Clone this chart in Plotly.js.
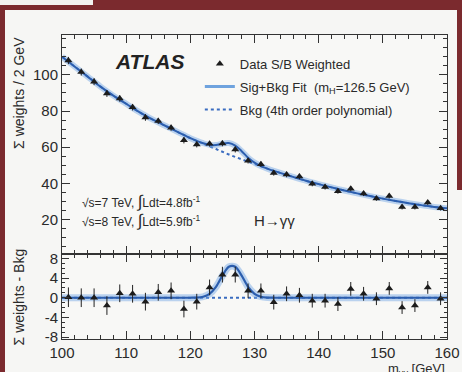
<!DOCTYPE html>
<html><head><meta charset="utf-8">
<script src="https://cdn.plot.ly/plotly-3.0.1.min.js"></script>
<style>
html,body{margin:0;padding:0;width:462px;height:372px;overflow:hidden;background:#7b2a2e;}
#chart{position:absolute;left:5px;top:10px;width:457px;height:362px;}
#wtop{position:absolute;left:0;top:0;width:93px;height:5px;background:#f2f2f0;}
#rband{position:absolute;left:457px;top:0;width:5px;height:190px;background:#7b2a2e;z-index:5;}
</style></head><body>
<div id="wtop"></div>
<div id="chart"></div>
<div id="rband"></div>
<script>
// ---- data ----
var massBins = [101,103,105,107,109,111,113,115,117,119,121,123,125,127,129,131,133,135,137,139,141,143,145,147,149,151,153,155,157,159];
var weightedData = [107.9,101.5,96.2,89.7,86.9,82.1,76.4,74.5,70.7,63.8,61.5,61.9,62.1,58.7,52.5,50.6,45.8,44.9,43.8,39.8,38.0,35.7,37.1,34.4,31.7,33.0,26.9,26.9,29.4,26.3];
var dataErr = [2.0,1.9,1.9,1.9,1.8,1.8,1.8,1.7,1.7,1.7,1.6,1.6,1.6,1.6,1.5,1.5,1.5,1.5,1.5,1.4,1.4,1.4,1.4,1.4,1.3,1.3,1.3,1.3,1.3,1.3];
var residData = [0.1,0.0,0.0,-1.6,0.9,0.8,-0.8,1.1,1.4,-2.3,-0.8,2.1,4.7,4.7,1.4,1.4,-0.9,0.8,0.5,-0.6,-0.6,-1.3,1.8,0.8,-0.2,1.9,-2.0,-1.6,2.1,-0.2];

var bkgMass = [100,102,104,106,108,110,112,114,116,118,120,122,124,126,128,130,132,134,136,138,140,142,144,146,148,150,152,154,156,158,160];
var bkgFit  = [110,104.5,99,93.5,88.5,84,79.5,75.5,72,68.5,65,62,59,56,53.3,50.7,48.2,45.8,43.6,41.5,39.6,37.8,36.1,34.5,33,31.6,30.3,29.1,28,27,26.3];

var fitMass = [100,102,104,106,108,110,112,114,116,118,120,121,122,123,124,125,126,127,128,129,130,131,132,134,136,138,140,142,144,146,148,150,152,154,156,158,160];
var sigBkgFit = [110,104.5,99,93.5,88.5,84,79.5,75.5,72,68.5,65,63.5,62.2,61.3,61.2,62.0,62.3,60.9,57.8,54.2,51.5,49.6,48.2,45.8,43.6,41.5,39.6,37.8,36.1,34.5,33,31.6,30.3,29.1,28,27,26.3];

var sigMass = [100,110,120,121,122,123,124,125,126,127,128,129,130,131,132,133,140,150,160];
var sigResid = [0,0,0,0.03,0.2,0.8,2.2,4.5,6.3,6.3,4.5,2.2,0.8,0.2,0.03,0,0,0,0];
var zeroMass = [100,160];
var zeroResid = [0,0];

var xTickVals = [100,110,120,130,140,150,160];
var yTickVals = [20,40,60,80,100];
var y2TickVals = [-8,-4,0,4,8];
var y2TickText = ['-8','-4','0','4','8'];

// ---- styling ----
var FONT = 'Liberation Sans, Arial, Helvetica, sans-serif';
var INK = '#2a2a2a';
var BLUE = '#2c5eae';
var HALO = 'rgba(110,165,228,0.45)';

var traces = [
  {x: bkgMass, y: bkgFit, xaxis:'x', yaxis:'y', mode:'lines', line:{color:'#3a6cc0', width:2, dash:'dot', shape:'spline'},
   name:'Bkg (4th order polynomial)', legendgroup:'c', legendrank:3},
  {x: fitMass, y: sigBkgFit, xaxis:'x', yaxis:'y', mode:'lines', line:{color:HALO, width:6, shape:'spline'}, showlegend:false, hoverinfo:'skip'},
  {x: fitMass, y: sigBkgFit, xaxis:'x', yaxis:'y', mode:'lines', line:{color:BLUE, width:2, shape:'spline'}, showlegend:false},
  {x: [null], y: [null], xaxis:'x', yaxis:'y', mode:'lines', line:{color:'#6fa3de', width:3},
   name:'Sig+Bkg Fit  (m<sub>H</sub>=126.5 GeV)', legendgroup:'b', legendrank:2},
  {x: massBins, y: weightedData, xaxis:'x', yaxis:'y', mode:'markers',
   marker:{symbol:'triangle-up', size:7, color:'#1c1c1c'},
   error_y:{type:'data', array:dataErr, visible:true, thickness:1, width:0, color:'#222'},
   name:'Data S/B Weighted', legendgroup:'a', legendrank:1},

  {x: zeroMass, y: zeroResid, xaxis:'x2', yaxis:'y2', mode:'lines', line:{color:'#3a6cc0', width:2, dash:'dot'}, showlegend:false},
  {x: sigMass, y: sigResid, xaxis:'x2', yaxis:'y2', mode:'lines', line:{color:HALO, width:7, shape:'spline', smoothing:0.8}, showlegend:false},
  {x: sigMass, y: sigResid, xaxis:'x2', yaxis:'y2', mode:'lines', line:{color:BLUE, width:2.2, shape:'spline', smoothing:0.8}, showlegend:false},
  {x: massBins, y: residData, xaxis:'x2', yaxis:'y2', mode:'markers',
   marker:{symbol:'triangle-up', size:7, color:'#1c1c1c'},
   error_y:{type:'data', array:dataErr, visible:true, thickness:1, width:0, color:'#222'},
   showlegend:false}
];

var axBase = {showline:true, linecolor:'#333', linewidth:1, mirror:'allticks', ticks:'inside', tickcolor:'#333',
  showgrid:false, zeroline:false, tickfont:{family:FONT, size:15, color:INK}};

var split = 0.2796;
var layout = {
  width:457, height:362,
  margin:{l:57, r:15, t:25, b:33},
  paper_bgcolor:'#f6f6f4', plot_bgcolor:'#f8f8f6',
  font:{family:FONT, color:INK},
  showlegend:true,
  legend:{x:0.358, y:0.955, xanchor:'left', yanchor:'top', bgcolor:'rgba(0,0,0,0)',
    font:{family:FONT, size:13, color:INK}, traceorder:'grouped', tracegroupgap:3, itemwidth:30},
  xaxis: Object.assign({}, axBase, {domain:[0,1], anchor:'y', range:[100,160], tickvals:xTickVals, ticklen:8,
    showticklabels:false, minor:{dtick:2, tick0:100, ticklen:4, ticks:'inside', tickcolor:'#333'}}),
  yaxis: Object.assign({}, axBase, {domain:[split,1], anchor:'x', range:[1,122], tickvals:yTickVals, ticklen:8,
    minor:{dtick:5, tick0:0, ticklen:4, ticks:'inside', tickcolor:'#333'}}),
  xaxis2: Object.assign({}, axBase, {domain:[0,1], anchor:'y2', range:[100,160], tickvals:xTickVals, ticklen:8,
    minor:{dtick:2, tick0:100, ticklen:4, ticks:'inside', tickcolor:'#333'}}),
  yaxis2: Object.assign({}, axBase, {domain:[0,split], anchor:'x2', range:[-8.4,8.9], tickvals:y2TickVals, ticktext:y2TickText, ticklen:7,
    minor:{dtick:1, tick0:0, ticklen:3, ticks:'inside', tickcolor:'#333'}}),
  annotations:[
    {xref:'x', yref:'y', x:108, y:107.5, xanchor:'left', yanchor:'middle', showarrow:false,
     text:'<b><i>ATLAS</i></b>', font:{family:FONT, size:21, color:'#222'}},
    {xref:'x', yref:'y', x:102.8, y:30, xanchor:'left', yanchor:'middle', showarrow:false,
     text:'√s=7 TeV, <span style="font-size:17px">∫</span>Ldt=4.8fb<sup>-1</sup>', font:{family:FONT, size:12, color:INK}},
    {xref:'x', yref:'y', x:102.8, y:19.5, xanchor:'left', yanchor:'middle', showarrow:false,
     text:'√s=8 TeV, <span style="font-size:17px">∫</span>Ldt=5.9fb<sup>-1</sup>', font:{family:FONT, size:12, color:INK}},
    {xref:'x', yref:'y', x:129.6, y:19.5, xanchor:'left', yanchor:'middle', showarrow:false,
     text:'H→γγ', font:{family:FONT, size:15, color:INK}},
    {xref:'paper', yref:'paper', x:-0.112, y:1, xanchor:'center', yanchor:'top', textangle:-90, showarrow:false,
     text:'Σ weights / 2 GeV', font:{family:FONT, size:14, color:INK}},
    {xref:'paper', yref:'paper', x:-0.112, y:split/2, xanchor:'center', yanchor:'middle', textangle:-90, showarrow:false,
     text:'Σ weights - Bkg', font:{family:FONT, size:14, color:INK}},
    {xref:'paper', yref:'paper', x:1, y:0, xanchor:'right', yanchor:'top', yshift:-20, showarrow:false,
     text:'m<sub>γγ</sub> [GeV]', font:{family:FONT, size:13, color:INK}}
  ]
};

Plotly.newPlot('chart', traces, layout, {displayModeBar:false, staticPlot:true});
</script>
</body></html>
